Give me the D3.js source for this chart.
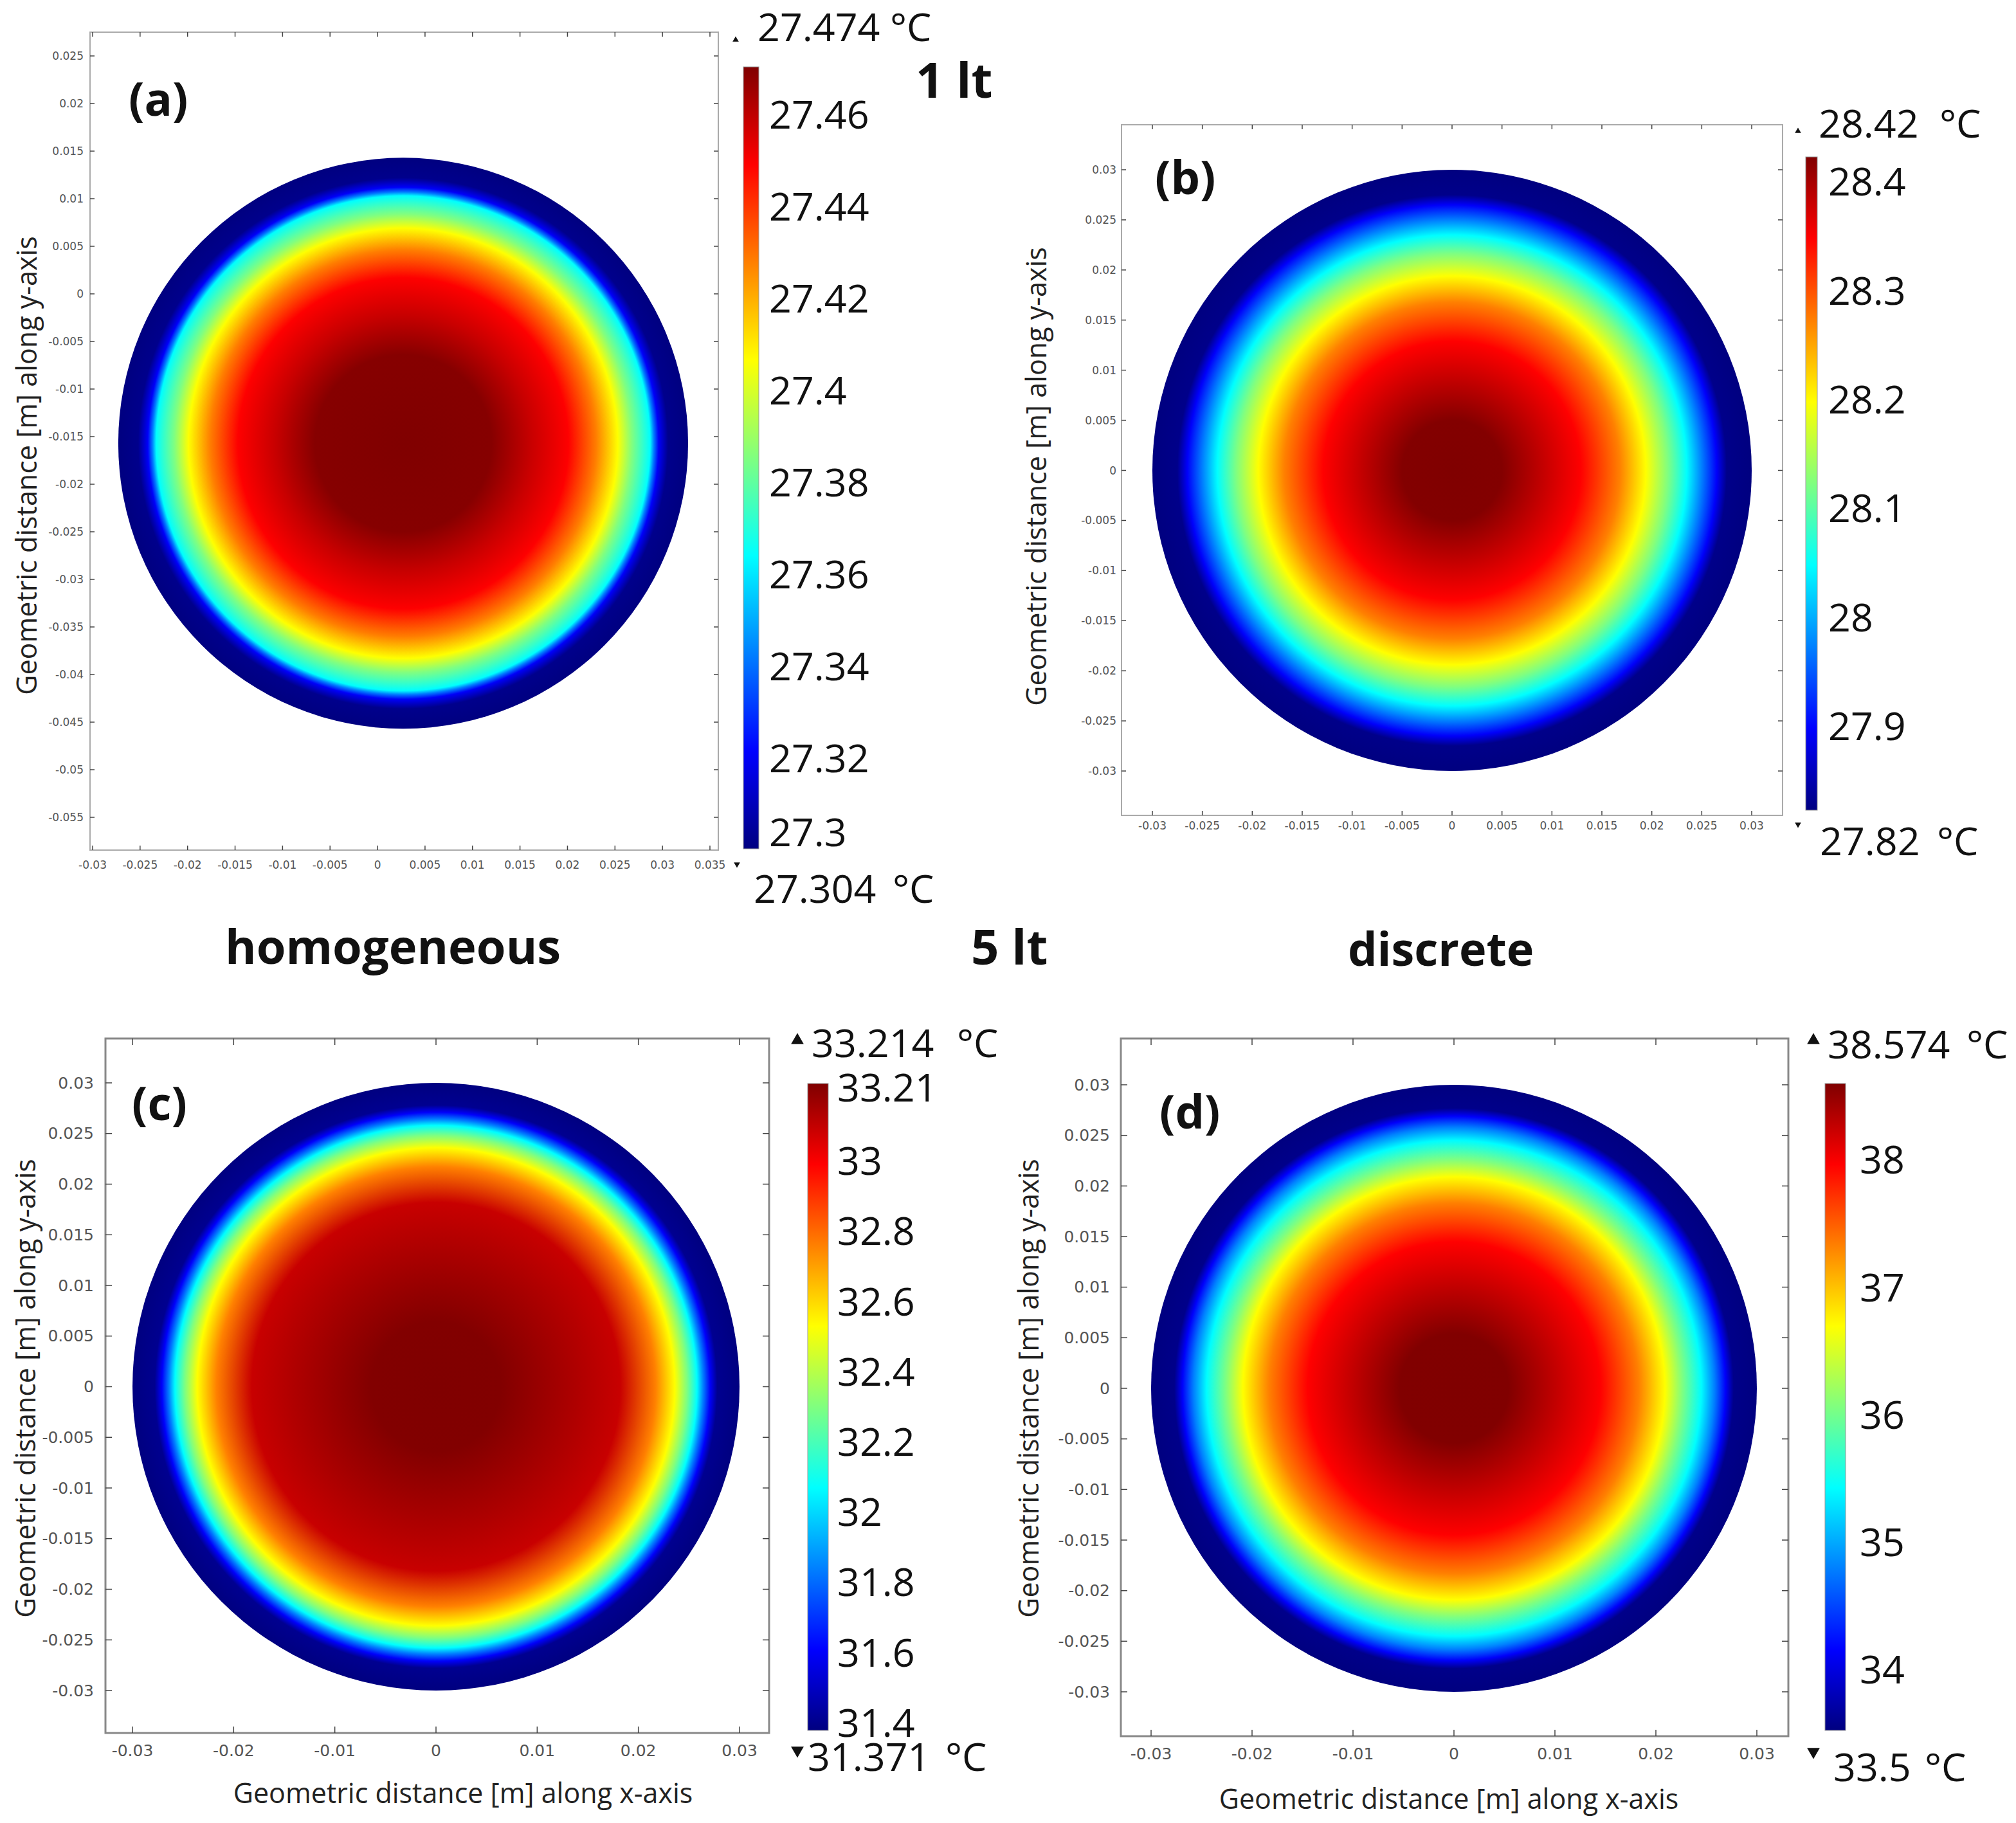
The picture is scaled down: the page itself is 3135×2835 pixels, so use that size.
<!DOCTYPE html>
<html lang="en">
<head>
  <meta charset="UTF-8">
  <script src="https://cdnjs.cloudflare.com/ajax/libs/d3/7.8.5/d3.min.js"></script>
  <title>Temperature distribution</title>
  <style>
    body { margin: 0; background: #fff; }
    text { font-family: "Open Sans", sans-serif; }
  </style>
</head>
<body>
<script>
  // ---- data ----
  var panelLabels = ["(a)", "(b)", "(c)", "(d)"];
  var tempMin = [27.304, 27.82, 31.371, 33.5];
  var tempMax = [27.474, 28.42, 33.214, 38.574];

  // disc centre and radius, metres
  var discX = [0.0027, 0, 0, 0];
  var discY = [-0.0157, 0, 0, 0];
  var discR = [0.03, 0.03, 0.03, 0.03];

  // radial temperature profiles (distance from centre in m, temperature in degC)
  var profileR = [
    [0, 0.0093, 0.0135, 0.0174, 0.0203, 0.0226, 0.0241, 0.0260, 0.0264, 0.0269, 0.0279, 0.03],
    [0, 0.0050, 0.0129, 0.0168, 0.0194, 0.0216, 0.0235, 0.0250, 0.0265, 0.0275, 0.03],
    [0, 0.0064, 0.0182, 0.0217, 0.0236, 0.0248, 0.0258, 0.0264, 0.0271, 0.0278, 0.03],
    [0, 0.0054, 0.0145, 0.0183, 0.0209, 0.0226, 0.0245, 0.0258, 0.0269, 0.0277, 0.03]
  ];
  var profileT = [
    [27.474, 27.473, 27.462, 27.453, 27.432, 27.410, 27.389, 27.368, 27.346, 27.324, 27.306, 27.304],
    [28.42, 28.418, 28.345, 28.27, 28.195, 28.12, 28.045, 27.97, 27.892, 27.826, 27.82],
    [33.214, 33.21, 33.084, 32.753, 32.523, 32.293, 32.062, 31.832, 31.592, 31.40, 31.371],
    [38.574, 38.57, 37.94, 37.31, 36.67, 36.04, 35.40, 34.77, 34.11, 33.55, 33.5]
  ];

  // colour bar tick labels
  var barTicks = [
    [27.46, 27.44, 27.42, 27.4, 27.38, 27.36, 27.34, 27.32, 27.3],
    [28.4, 28.3, 28.2, 28.1, 28, 27.9],
    [33.21, 33, 32.8, 32.6, 32.4, 32.2, 32, 31.8, 31.6, 31.4],
    [38, 37, 36, 35, 34]
  ];

  // axis ticks
  var xTicks = [
    [-0.03, -0.025, -0.02, -0.015, -0.01, -0.005, 0, 0.005, 0.01, 0.015, 0.02, 0.025, 0.03, 0.035],
    [-0.03, -0.025, -0.02, -0.015, -0.01, -0.005, 0, 0.005, 0.01, 0.015, 0.02, 0.025, 0.03],
    [-0.03, -0.02, -0.01, 0, 0.01, 0.02, 0.03],
    [-0.03, -0.02, -0.01, 0, 0.01, 0.02, 0.03]
  ];
  var yTicks = [
    [0.025, 0.02, 0.015, 0.01, 0.005, 0, -0.005, -0.01, -0.015, -0.02, -0.025, -0.03, -0.035, -0.04, -0.045, -0.05, -0.055],
    [0.03, 0.025, 0.02, 0.015, 0.01, 0.005, 0, -0.005, -0.01, -0.015, -0.02, -0.025, -0.03],
    [0.03, 0.025, 0.02, 0.015, 0.01, 0.005, 0, -0.005, -0.01, -0.015, -0.02, -0.025, -0.03],
    [0.03, 0.025, 0.02, 0.015, 0.01, 0.005, 0, -0.005, -0.01, -0.015, -0.02, -0.025, -0.03]
  ];

  var yTitle = "Geometric distance [m] along y-axis";
  var xTitle = "Geometric distance [m] along x-axis";

  // ---- layout (pixels) ----
  var layout = [
    { frame: [140, 50, 1117, 1322], xr: [144, 1104], yr: [87, 1271], tick: 7, tickFont: 17, frameCol: "#aaa", frameW: 2,
      xLabY: 1345, yLabX: 130, bar: [1156, 104, 1180, 1320], barLabX: 1196, barLabDy: -28,
      maxPos: [1178, 40, 1384], minPos: [1172, 1380, 1388], triUp: [1144, 62, 40], triDown: [1146, 1344, 40],
      label: [200, 152], yTitle: [40, 724], xTitle: null },
    { frame: [1744, 194, 2772, 1268], xr: [1792, 2724], yr: [264, 1199], tick: 7, tickFont: 17, frameCol: "#aaa", frameW: 2,
      xLabY: 1284, yLabX: 1736, bar: [2808, 244, 2826, 1260], barLabX: 2843, barLabDy: 3,
      maxPos: [2828, 190, 3016], minPos: [2830, 1306, 3012], triUp: [2796, 204, 40], triDown: [2796, 1282, 40],
      label: [1796, 274], yTitle: [1610, 741], xTitle: null },
    { frame: [164, 1615, 1196, 2695], xr: [206, 1150], yr: [1684, 2629], tick: 10, tickFont: 25, frameCol: "#888", frameW: 3,
      xLabY: 2722, yLabX: 146, bar: [1256, 1685, 1288, 2691], barLabX: 1302, barLabDy: 2,
      maxPos: [1262, 1620, 1488], minPos: [1256, 2730, 1470], triUp: [1240, 1618, 170], triDown: [1240, 2722, 170],
      label: [205, 1714], yTitle: [38, 2159], xTitle: [720, 2787] },
    { frame: [1743, 1615, 2781, 2700], xr: [1790, 2732], yr: [1687, 2631], tick: 10, tickFont: 25, frameCol: "#888", frameW: 3,
      xLabY: 2727, yLabX: 1726, bar: [2838, 1685, 2870, 2691], barLabX: 2892, barLabDy: 3,
      maxPos: [2842, 1622, 3058], minPos: [2851, 2746, 2993], triUp: [2820, 1618, 170], triDown: [2820, 2724, 170],
      label: [1803, 1727], yTitle: [1598, 2159], xTitle: [2253, 2796] }
  ];

  var W = 3135, H = 2835;

  // jet colour map on 0..1
  var jetStops = [0, 0.125, 0.375, 0.625, 0.875, 1];
  var jetColors = ["#000080", "#0000ff", "#00ffff", "#ffff00", "#ff0000", "#800000"];
  var jet = d3.scaleLinear().domain(jetStops).range(jetColors).interpolate(d3.interpolateRgb);

  var svg = d3.select("body").append("svg")
    .attr("width", W)
    .attr("height", H)
    .style("background", "#fff");

  var defs = svg.append("defs");

  panelLabels.forEach(function (name, i) {
    var L = layout[i];
    var x = d3.scaleLinear().domain([xTicks[i][0], xTicks[i][xTicks[i].length - 1]]).range(L.xr);
    var y = d3.scaleLinear().domain([yTicks[i][0], yTicks[i][yTicks[i].length - 1]]).range(L.yr);
    var norm = d3.scaleLinear().domain([tempMin[i], tempMax[i]]).range([0, 1]).clamp(true);
    var g = svg.append("g");

    // radial temperature field of the disc
    var rg = defs.append("radialGradient").attr("id", "field" + i)
      .attr("cx", "50%").attr("cy", "50%").attr("r", "50%");
    rg.selectAll("stop").data(profileR[i]).enter().append("stop")
      .attr("offset", function (d) { return d / discR[i]; })
      .attr("stop-color", function (d, k) { return jet(norm(profileT[i][k])); });

    g.append("ellipse")
      .attr("cx", x(discX[i]))
      .attr("cy", y(discY[i]))
      .attr("rx", x(discX[i] + discR[i]) - x(discX[i]))
      .attr("ry", y(discY[i] - discR[i]) - y(discY[i]))
      .attr("fill", "url(#field" + i + ")");

    // frame
    var f = L.frame;
    g.append("rect")
      .attr("x", f[0]).attr("y", f[1])
      .attr("width", f[2] - f[0]).attr("height", f[3] - f[1])
      .attr("fill", "none")
      .attr("stroke", L.frameCol)
      .attr("stroke-width", L.frameW);

    // inward ticks on all four sides
    var tk = g.append("g").attr("stroke", "#444").attr("stroke-width", 1.5);
    xTicks[i].forEach(function (v) {
      tk.append("line").attr("x1", x(v)).attr("x2", x(v)).attr("y1", f[3]).attr("y2", f[3] - L.tick);
      tk.append("line").attr("x1", x(v)).attr("x2", x(v)).attr("y1", f[1]).attr("y2", f[1] + L.tick);
    });
    yTicks[i].forEach(function (v) {
      tk.append("line").attr("y1", y(v)).attr("y2", y(v)).attr("x1", f[0]).attr("x2", f[0] + L.tick);
      tk.append("line").attr("y1", y(v)).attr("y2", y(v)).attr("x1", f[2]).attr("x2", f[2] - L.tick);
    });

    g.selectAll(".xl").data(xTicks[i]).enter().append("text")
      .attr("x", function (d) { return x(d); })
      .attr("y", L.xLabY)
      .attr("text-anchor", "middle")
      .attr("dominant-baseline", "central")
      .style("font-family", "'DejaVu Sans', sans-serif")
      .style("font-size", L.tickFont + "px")
      .attr("fill", "#555")
      .text(function (d) { return String(d); });

    g.selectAll(".yl").data(yTicks[i]).enter().append("text")
      .attr("x", L.yLabX)
      .attr("y", function (d) { return y(d); })
      .attr("text-anchor", "end")
      .attr("dominant-baseline", "central")
      .style("font-family", "'DejaVu Sans', sans-serif")
      .style("font-size", L.tickFont + "px")
      .attr("fill", "#555")
      .text(function (d) { return String(d); });

    // axis titles
    g.append("text")
      .attr("transform", "translate(" + L.yTitle[0] + "," + L.yTitle[1] + ") rotate(-90)")
      .attr("text-anchor", "middle")
      .attr("dominant-baseline", "central")
      .style("font-size", "43px")
      .attr("fill", "#222")
      .text(yTitle);
    if (L.xTitle) {
      g.append("text")
        .attr("x", L.xTitle[0]).attr("y", L.xTitle[1])
        .attr("text-anchor", "middle")
        .attr("dominant-baseline", "central")
        .style("font-size", "43px")
        .attr("fill", "#222")
        .text(xTitle);
    }

    // panel letter
    g.append("text")
      .attr("x", L.label[0]).attr("y", L.label[1])
      .attr("dominant-baseline", "central")
      .style("font-size", "72px")
      .style("font-weight", "bold")
      .attr("fill", "#111")
      .text(name);

    // colour bar
    var b = L.bar;
    var lg = defs.append("linearGradient").attr("id", "bar" + i)
      .attr("x1", 0).attr("x2", 0).attr("y1", 1).attr("y2", 0);
    lg.selectAll("stop").data(jetStops).enter().append("stop")
      .attr("offset", function (d) { return d; })
      .attr("stop-color", function (d) { return jet(d); });
    g.append("rect")
      .attr("x", b[0]).attr("y", b[1])
      .attr("width", b[2] - b[0]).attr("height", b[3] - b[1])
      .attr("fill", "url(#bar" + i + ")")
      .attr("stroke", "#999")
      .attr("stroke-width", 1);

    var bs = d3.scaleLinear().domain([tempMin[i], tempMax[i]]).range([b[3], b[1]]).clamp(true);
    g.selectAll(".bl").data(barTicks[i]).enter().append("text")
      .attr("x", L.barLabX)
      .attr("y", function (d) { return bs(d) + L.barLabDy; })
      .attr("dominant-baseline", "central")
      .style("font-size", "61px")
      .attr("fill", "#111")
      .text(function (d) { return String(d); });

    // max / min values
    [[tempMax[i], L.maxPos], [tempMin[i], L.minPos]].forEach(function (m) {
      g.append("text")
        .attr("x", m[1][0]).attr("y", m[1][1])
        .attr("dominant-baseline", "central")
        .style("font-size", "61px")
        .attr("fill", "#111")
        .text(String(m[0]));
      g.append("text")
        .attr("x", m[1][2]).attr("y", m[1][1])
        .attr("dominant-baseline", "central")
        .style("font-size", "61px")
        .attr("fill", "#111")
        .text("\u00b0C");
    });

    var tri = d3.symbol().type(d3.symbolTriangle);
    g.append("path")
      .attr("d", tri.size(L.triUp[2])())
      .attr("transform", "translate(" + L.triUp[0] + "," + L.triUp[1] + ")")
      .attr("fill", "#111");
    g.append("path")
      .attr("d", tri.size(L.triDown[2])())
      .attr("transform", "translate(" + L.triDown[0] + "," + L.triDown[1] + ") rotate(180)")
      .attr("fill", "#111");
  });

  // group headings
  var headings = [
    { t: "1 lt", x: 1424, y: 122, s: 76 },
    { t: "homogeneous", x: 350, y: 1470, s: 74 },
    { t: "5 lt", x: 1510, y: 1470, s: 76 },
    { t: "discrete", x: 2096, y: 1474, s: 72 }
  ];
  svg.selectAll(".head").data(headings).enter().append("text")
    .attr("x", function (d) { return d.x; })
    .attr("y", function (d) { return d.y; })
    .attr("dominant-baseline", "central")
    .style("font-size", function (d) { return d.s + "px"; })
    .style("font-weight", "bold")
    .attr("fill", "#111")
    .text(function (d) { return d.t; });
</script>
</body>
</html>
